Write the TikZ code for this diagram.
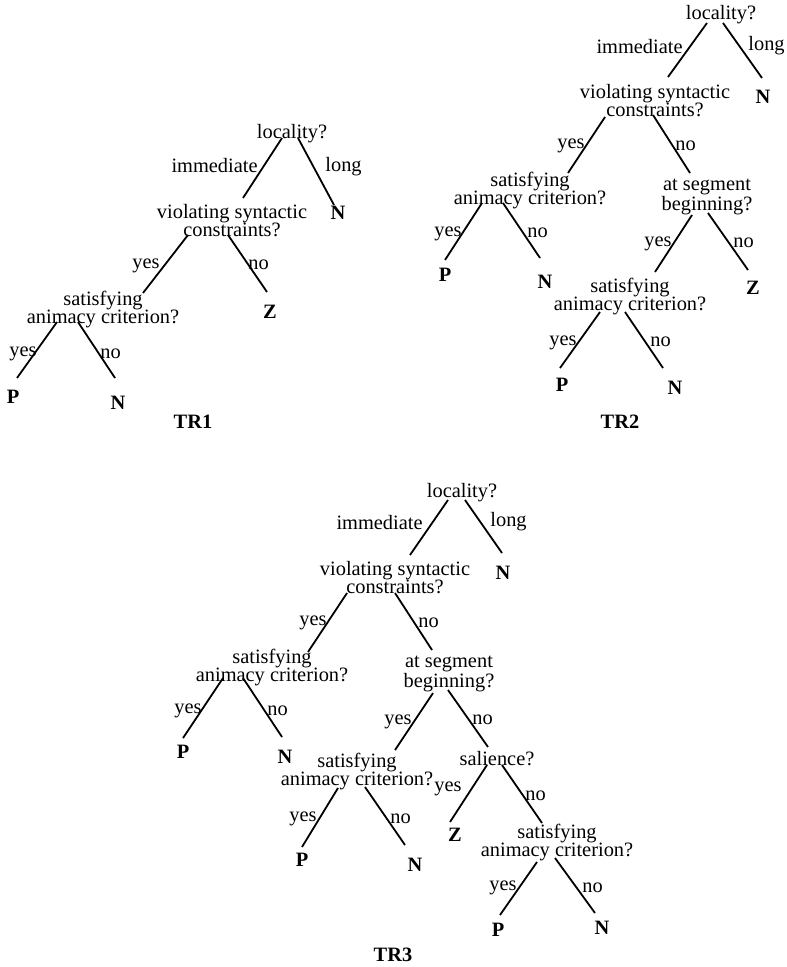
\documentclass[tikz,border=0pt]{standalone}
\usepackage{fontspec}
\setmainfont{Liberation Serif}
\newcommand\dtfont{\fontsize{10.2}{9}\selectfont}
\tikzset{
  q/.style={font=\dtfont, align=center, inner sep=0pt},
  leaf/.style={font=\dtfont\bfseries, inner sep=0pt},
  lab/.style={font=\dtfont, inner sep=0pt},
  labl/.style={lab, anchor=east},
  labr/.style={lab, anchor=west},
  br/.style={line width=0.9pt},
}
\begin{document}
\begin{tikzpicture}[x=0.5pt,y=-0.5pt]
\useasboundingbox (0,0) rectangle (786,967);
% ---------------- TR1 ----------------
\node[q] (t1loc) at (292,134) {locality?};
\node[q] (t1vio) at (232,221) {violating syntactic\\constraints?};
\node[leaf] (t1N1) at (338,213) {N};
\node[q] (t1sat) at (103,310) {satisfying\\animacy criterion?};
\node[leaf] (t1Z) at (270,312) {Z};
\node[leaf] (t1P) at (13,397) {P};
\node[leaf] (t1N2) at (118,403) {N};
\node[leaf] (tr1) at (193,422) {TR1};
\draw[br] ([shift={(-10,4)}]t1loc.center) -- ([shift={(11,-23)}]t1vio.center);
\draw[br] ([shift={(6,4)}]t1loc.center) -- ([shift={(-4,-8)}]t1N1.center);
\draw[br] ([shift={(-44,14)}]t1vio.center) -- ([shift={(40,-17)}]t1sat.center);
\draw[br] ([shift={(-4,14)}]t1vio.center) -- ([shift={(-3,-20)}]t1Z.center);
\draw[br] ([shift={(-46,12)}]t1sat.center) -- ([shift={(4,-19)}]t1P.center);
\draw[br] ([shift={(-25,12)}]t1sat.center) -- ([shift={(-3,-25)}]t1N2.center);
\node[labl] at (258,166) {immediate};
\node[labr] at (325,167) {long};
\node[labl] at (160,266) {yes};
\node[labr] at (248,265) {no};
\node[labl] at (37,354) {yes};
\node[labr] at (100,354) {no};
% ---------------- TR2 ----------------
\node[q] (t2loc) at (721,15) {locality?};
\node[q] (t2vio) at (655,101) {violating syntactic\\constraints?};
\node[leaf] (t2N1) at (763,97) {N};
\node[q] (t2sat1) at (530,191) {satisfying\\animacy criterion?};
\node[q] (t2seg) at (707,197) {at segment\\beginning?};
\node[leaf] (t2P1) at (445,275) {P};
\node[leaf] (t2N2) at (545,282) {N};
\node[q] (t2sat2) at (630,297) {satisfying\\animacy criterion?};
\node[leaf] (t2Z) at (753,288) {Z};
\node[leaf] (t2P2) at (562,385) {P};
\node[leaf] (t2N3) at (675,388) {N};
\node[leaf] (tr2) at (620,422) {TR2};
\draw[br] ([shift={(-14,8)}]t2loc.center) -- ([shift={(13,-24)}]t2vio.center);
\draw[br] ([shift={(2,8)}]t2loc.center) -- ([shift={(-1,-19)}]t2N1.center);
\draw[br] ([shift={(-50,16)}]t2vio.center) -- ([shift={(38,-18)}]t2sat1.center);
\draw[br] ([shift={(-2,14)}]t2vio.center) -- ([shift={(-17,-24)}]t2seg.center);
\draw[br] ([shift={(-48,12)}]t2sat1.center) -- ([shift={(0,-15)}]t2P1.center);
\draw[br] ([shift={(-27,12)}]t2sat1.center) -- ([shift={(-5,-24)}]t2N2.center);
\draw[br] ([shift={(-15,18)}]t2seg.center) -- ([shift={(25,-25)}]t2sat2.center);
\draw[br] ([shift={(1,16)}]t2seg.center) -- ([shift={(-5,-18)}]t2Z.center);
\draw[br] ([shift={(-30,15)}]t2sat2.center) -- ([shift={(-2,-17)}]t2P2.center);
\draw[br] ([shift={(-5,15)}]t2sat2.center) -- ([shift={(-12,-20)}]t2N3.center);
\node[labl] at (683,47) {immediate};
\node[labr] at (748,46) {long};
\node[labl] at (585,146) {yes};
\node[labr] at (675,146) {no};
\node[labl] at (462,234) {yes};
\node[labr] at (527,233) {no};
\node[labl] at (672,244) {yes};
\node[labr] at (733,243) {no};
\node[labl] at (577,343) {yes};
\node[labr] at (650,342) {no};
% ---------------- TR3 ----------------
\node[q] (t3loc) at (462,493) {locality?};
\node[q] (t3vio) at (395,578) {violating syntactic\\constraints?};
\node[leaf] (t3N1) at (503,573) {N};
\node[q] (t3sat1) at (272,668) {satisfying\\animacy criterion?};
\node[q] (t3seg) at (449,674) {at segment\\beginning?};
\node[leaf] (t3P1) at (183,752) {P};
\node[leaf] (t3N2) at (285,757) {N};
\node[q] (t3sat2) at (357,772) {satisfying\\animacy criterion?};
\node[q] (t3sal) at (497,759) {salience?};
\node[leaf] (t3P2) at (302,860) {P};
\node[leaf] (t3N3) at (415,865) {N};
\node[leaf] (t3Z) at (455,835) {Z};
\node[q] (t3sat3) at (557,843) {satisfying\\animacy criterion?};
\node[leaf] (t3P3) at (498,930) {P};
\node[leaf] (t3N4) at (602,928) {N};
\node[leaf] (tr3) at (393,955) {TR3};
\draw[br] ([shift={(-14,7)}]t3loc.center) -- ([shift={(15,-23)}]t3vio.center);
\draw[br] ([shift={(3,7)}]t3loc.center) -- ([shift={(-1,-20)}]t3N1.center);
\draw[br] ([shift={(-48,15)}]t3vio.center) -- ([shift={(36,-16)}]t3sat1.center);
\draw[br] ([shift={(0,15)}]t3vio.center) -- ([shift={(-17,-24)}]t3seg.center);
\draw[br] ([shift={(-49,10)}]t3sat1.center) -- ([shift={(0,-14)}]t3P1.center);
\draw[br] ([shift={(-29,10)}]t3sat1.center) -- ([shift={(-3,-20)}]t3N2.center);
\draw[br] ([shift={(-16,19)}]t3seg.center) -- ([shift={(38,-22)}]t3sat2.center);
\draw[br] ([shift={(-1,16)}]t3seg.center) -- ([shift={(-9,-12)}]t3sal.center);
\draw[br] ([shift={(-19,16)}]t3sat2.center) -- ([shift={(0,-13)}]t3P2.center);
\draw[br] ([shift={(8,15)}]t3sat2.center) -- ([shift={(-10,-20)}]t3N3.center);
\draw[br] ([shift={(-10,6)}]t3sal.center) -- ([shift={(-5,-13)}]t3Z.center);
\draw[br] ([shift={(5,6)}]t3sal.center) -- ([shift={(-15,-20)}]t3sat3.center);
\draw[br] ([shift={(-20,19)}]t3sat3.center) -- ([shift={(2,-15)}]t3P3.center);
\draw[br] ([shift={(-2,15)}]t3sat3.center) -- ([shift={(-7,-15)}]t3N4.center);
\node[labl] at (423,523) {immediate};
\node[labr] at (490,522) {long};
\node[labl] at (327,623) {yes};
\node[labr] at (418,623) {no};
\node[labl] at (202,711) {yes};
\node[labr] at (267,711) {no};
\node[labl] at (412,722) {yes};
\node[labr] at (472,720) {no};
\node[labl] at (317,819) {yes};
\node[labr] at (390,819) {no};
\node[labl] at (462,789) {yes};
\node[labr] at (525,796) {no};
\node[labl] at (517,888) {yes};
\node[labr] at (582,888) {no};
\end{tikzpicture}
\end{document}
